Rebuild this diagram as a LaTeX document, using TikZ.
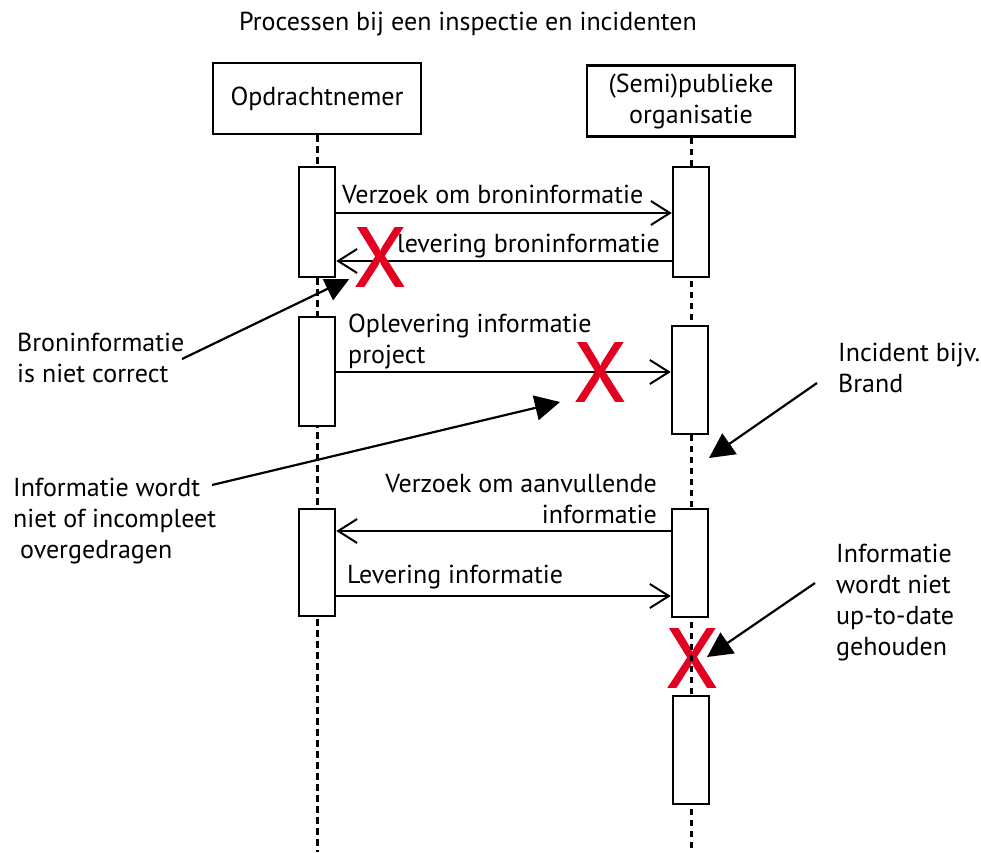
\documentclass[tikz,border=0pt]{standalone}
\usepackage{fontspec}
\setmainfont{PT Sans}
\newfontfamily\crossfont[FakeBold=1.2]{PT Sans}
\usetikzlibrary{arrows.meta}
\definecolor{xred}{RGB}{228,0,32}

\begin{document}
\begin{tikzpicture}[x=1pt,y=-1pt,
  lbl/.style={font=\fontsize{26}{31}\selectfont, inner sep=0pt, align=left},
  headbox/.style={draw, line width=2.5pt, minimum width=208pt, minimum height=71pt,
    align=center, inner sep=0pt, font=\fontsize{26}{31}\selectfont},
  act/.style={draw, fill=white, line width=2.5pt, minimum width=36pt, inner sep=0pt},
  life/.style={line width=3pt, dash pattern=on 6.5pt off 4.5pt},
  msg/.style={line width=2pt, -{Straight Barb[length=19pt,width=24pt]}},
  call/.style={line width=2.2pt, -{Triangle[length=25pt,width=25pt]}},
  xmark/.style={text=xred, inner sep=0pt, font=\crossfont\fontsize{84}{84}\selectfont}
]
\useasboundingbox (0,0) rectangle (981,852);

% title
\node[lbl, anchor=base] (title) at (468,30) {Processen bij een inspectie en incidenten};

% participants
\node[headbox] (opd) at (317,98.5) {Opdrachtnemer};
\node[headbox] (pub) at (691,101) {(Semi)publieke\\organisatie};

% cross on the right lifeline sits underneath the dashes
\node[xmark] (x3) at (692,658) {X};

% lifelines
\draw[life] (opd.south) -- (opd.south |- 0,852);
\draw[life] (pub.south) -- (pub.south |- 0,852);

% activation bars
\node[act, minimum height=110pt] (L1) at (317,222) {};
\node[act, minimum height=110pt] (R1) at (691,222) {};
\node[act, minimum height=109pt] (L2) at (317,371.5) {};
\node[act, minimum height=108pt] (R2) at (690,380) {};
\node[act, minimum height=107pt] (L3) at (317,562.5) {};
\node[act, minimum height=108pt] (R3) at (690,563) {};
\node[act, minimum height=108pt] (R4) at (691,750) {};

% messages
\draw[msg] (L1.east |- 0,213) -- (R1.west |- 0,213);
\draw[msg] (R1.west |- 0,261) -- (L1.east |- 0,261);
\draw[msg] (L2.east |- 0,372) -- (R2.west |- 0,372);
\draw[msg] (R3.west |- 0,531) -- (L3.east |- 0,531);
\draw[msg] (L3.east |- 0,596) -- (R3.west |- 0,596);

% message labels (multi-line labels are placed by their last baseline)
\node[lbl, anchor=base west] (m1) at (342,203) {Verzoek om broninformatie};
\node[lbl, anchor=base west] (m2) at (397,252) {levering broninformatie};
\node[lbl, anchor=base west] (m3) at (348,363) {Oplevering informatie\\project};
\node[lbl, anchor=base east, align=right] (m4) at (657,523) {Verzoek om aanvullende\\informatie};
\node[lbl, anchor=base west] (m5) at (347,583) {Levering informatie};

% failure marks
\node[xmark] (x1) at (380,257) {X};
\node[xmark] (x2) at (600,372) {X};

% annotations
\node[lbl, anchor=base west] (n1) at (17,382) {Broninformatie\\is niet correct};
\node[lbl, anchor=base west] (n2) at (13,558) {Informatie wordt\\niet of incompleet\\\ overgedragen};
\node[lbl, anchor=base west] (n3) at (838,392) {Incident bijv.\\Brand};
\node[lbl, anchor=base west] (n4) at (836,655) {Informatie\\wordt niet\\up-to-date\\gehouden};

% annotation pointers
\coordinate (p1s) at (182,359);
\coordinate (p1e) at (350,278);
\coordinate (p2s) at (212,485);
\coordinate (p2e) at (560,402);
\coordinate (p3s) at (817,383);
\coordinate (p3e) at (709,458);
\coordinate (p4s) at (815,583);
\coordinate (p4e) at (707,657);

\begin{scope}
  \clip (0,279.5) rectangle (981,852);
  \draw[call] (p1s) -- (p1e);
\end{scope}
\draw[call] (p2s) -- (p2e);
\draw[call] (p3s) -- (p3e);
\draw[call] (p4s) -- (p4e);
\end{tikzpicture}
\end{document}
